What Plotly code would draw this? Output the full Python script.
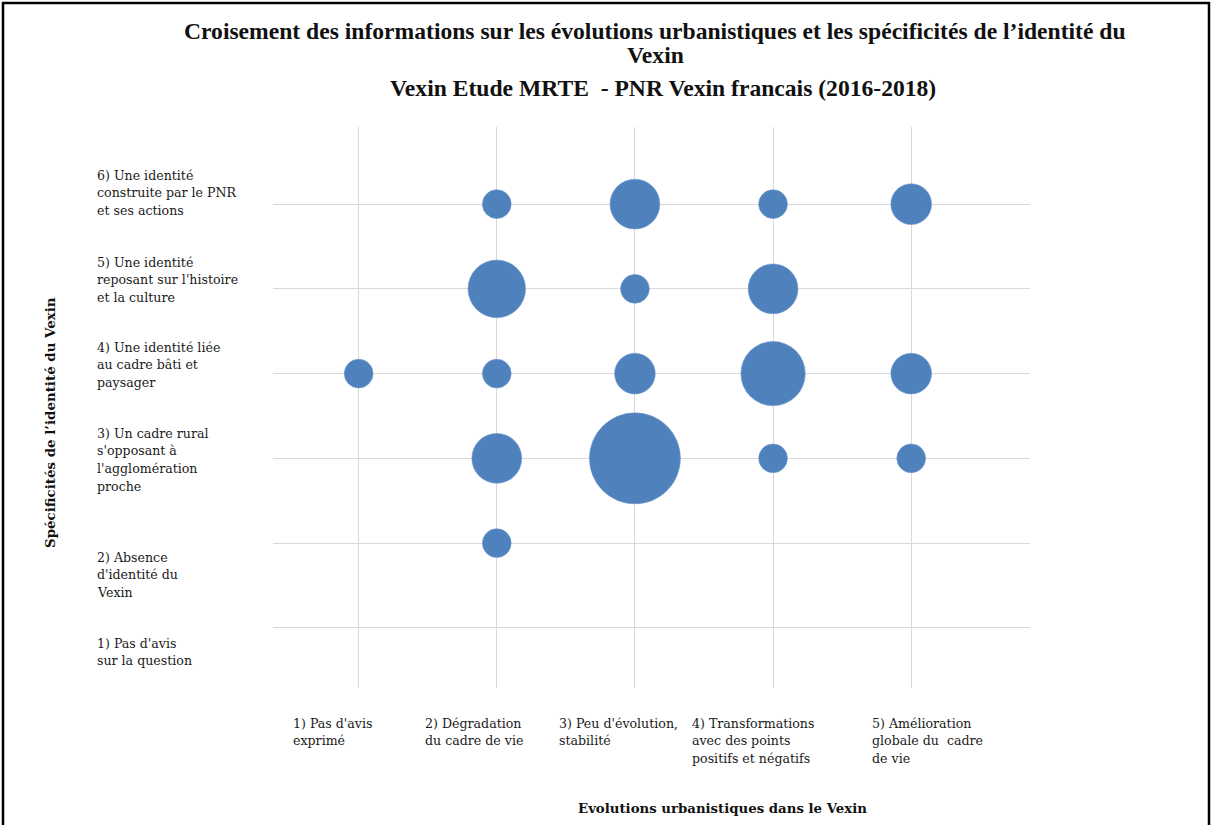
import plotly.graph_objects as go

# ---- data ----
x_categories = [
    "1) Pas d'avis<br>exprimé",
    "2) Dégradation<br>du cadre de vie",
    "3) Peu d'évolution,<br>stabilité",
    "4) Transformations<br>avec des points<br>positifs et négatifs",
    "5) Amélioration<br>globale du  cadre<br>de vie",
]
y_categories = [
    "1) Pas d'avis<br>sur la question",
    "2) Absence<br>d'identité du<br>Vexin",
    "3) Un cadre rural<br>s'opposant à<br>l'agglomération<br>proche",
    "4) Une identité liée<br>au cadre bâti et<br>paysager",
    "5) Une identité<br>reposant sur l'histoire<br>et la culture",
    "6) Une identité<br>construite par le PNR<br>et ses actions",
]
# bubble positions (x = evolution index, y = identity index) and counts
bubble_x = [2, 3, 4, 5, 2, 3, 4, 1, 2, 3, 4, 5, 2, 3, 4, 5, 2]
bubble_y = [6, 6, 6, 6, 5, 5, 5, 4, 4, 4, 4, 4, 3, 3, 3, 3, 2]
bubble_v = [1, 3, 1, 2, 4, 1, 3, 1, 1, 2, 5, 2, 3, 10, 1, 1, 1]

title_line1 = "Croisement des informations sur les évolutions urbanistiques et les spécificités de l\u2019identité du"
title_line2 = "Vexin"
title_line3 = "Vexin Etude MRTE  - PNR Vexin francais (2016-2018)"
x_title = "Evolutions urbanistiques dans le Vexin"
y_title = "Spécificités de l\u2019identité du Vexin"

# ---- layout geometry (page pixels) ----
W, H = 1213, 825
L, R, T, B = 273, 1030, 127, 688


def px(x):
    return (x - L) / (R - L)


def py(y):
    return (B - y) / (B - T)


fig = go.Figure()
fig.add_trace(go.Scatter(
    x=bubble_x, y=bubble_y, mode="markers",
    marker=dict(size=bubble_v, sizemode="area",
                sizeref=2 * max(bubble_v) / (91 ** 2),
                color="#4F81BD", line=dict(width=0.6, color="#6E9BD0"), opacity=1),
    hoverinfo="x+y", showlegend=False,
))

ann = []
TICKFONT = dict(family="DejaVu Serif", size=12.6, color="#1a1a1a")
LINE = 17.8

# y tick labels (left-aligned text blocks)
y_first_centers = [643, 557, 433, 347, 262, 175]
for lab, yc in zip(y_categories, y_first_centers):
    for i, line in enumerate(lab.split("<br>")):
        ann.append(dict(text=line, xref="paper", yref="paper", x=px(95), y=py(yc + i * LINE),
                        xanchor="left", yanchor="middle", showarrow=False, font=TICKFONT))

# x tick labels
x_lefts = [291, 423, 557, 690, 870]
for lab, xl in zip(x_categories, x_lefts):
    for i, line in enumerate(lab.split("<br>")):
        ann.append(dict(text=line, xref="paper", yref="paper", x=px(xl), y=py(723 + i * LINE),
                        xanchor="left", yanchor="middle", showarrow=False, font=TICKFONT))

TFONT = dict(family="Liberation Serif", size=23.6, color="#111")
ann.append(dict(text="<b>" + title_line1 + "</b>", xref="paper", yref="paper", x=px(655), y=py(31),
                xanchor="center", yanchor="middle", showarrow=False, font=TFONT))
ann.append(dict(text="<b>" + title_line2 + "</b>", xref="paper", yref="paper", x=px(655), y=py(55),
                xanchor="center", yanchor="middle", showarrow=False, font=TFONT))
ann.append(dict(text="<b>" + title_line3 + "</b>", xref="paper", yref="paper", x=px(663), y=py(88),
                xanchor="center", yanchor="middle", showarrow=False, font=TFONT))

AFONT = dict(family="DejaVu Serif", size=13.3, color="#111")
ann.append(dict(text="<b>" + x_title + "</b>", xref="paper", yref="paper", x=px(722), y=py(808),
                xanchor="center", yanchor="middle", showarrow=False, font=AFONT))
ann.append(dict(text="<b>" + y_title + "</b>", xref="paper", yref="paper", x=px(50), y=py(423),
                xanchor="center", yanchor="middle", showarrow=False, textangle=-90,
                font=dict(family="DejaVu Serif", size=13.4, color="#111")))

fig.update_layout(
    width=W, height=H,
    margin=dict(l=L, r=W - R, t=T, b=H - B, pad=0),
    paper_bgcolor="white", plot_bgcolor="white",
    annotations=ann,
    shapes=[dict(type="rect", xref="paper", yref="paper",
                 x0=px(3), x1=px(1209), y0=py(840), y1=py(3),
                 line=dict(color="#000", width=2.5), fillcolor="rgba(0,0,0,0)", layer="below")],
    xaxis=dict(range=[0.38, 5.86], tickvals=[1, 2, 3, 4, 5], showticklabels=False,
               showgrid=True, gridcolor="#D9D9D9", gridwidth=1, zeroline=False, showline=False,
               fixedrange=True),
    yaxis=dict(range=[0.29, 6.91], tickvals=[1, 2, 3, 4, 5, 6], showticklabels=False,
               showgrid=True, gridcolor="#D9D9D9", gridwidth=1, zeroline=False, showline=False,
               fixedrange=True),
)

fig.write_html("out.html", config={"displayModeBar": False},
               post_script="document.body.style.margin='0px';document.body.style.overflow='hidden';")
